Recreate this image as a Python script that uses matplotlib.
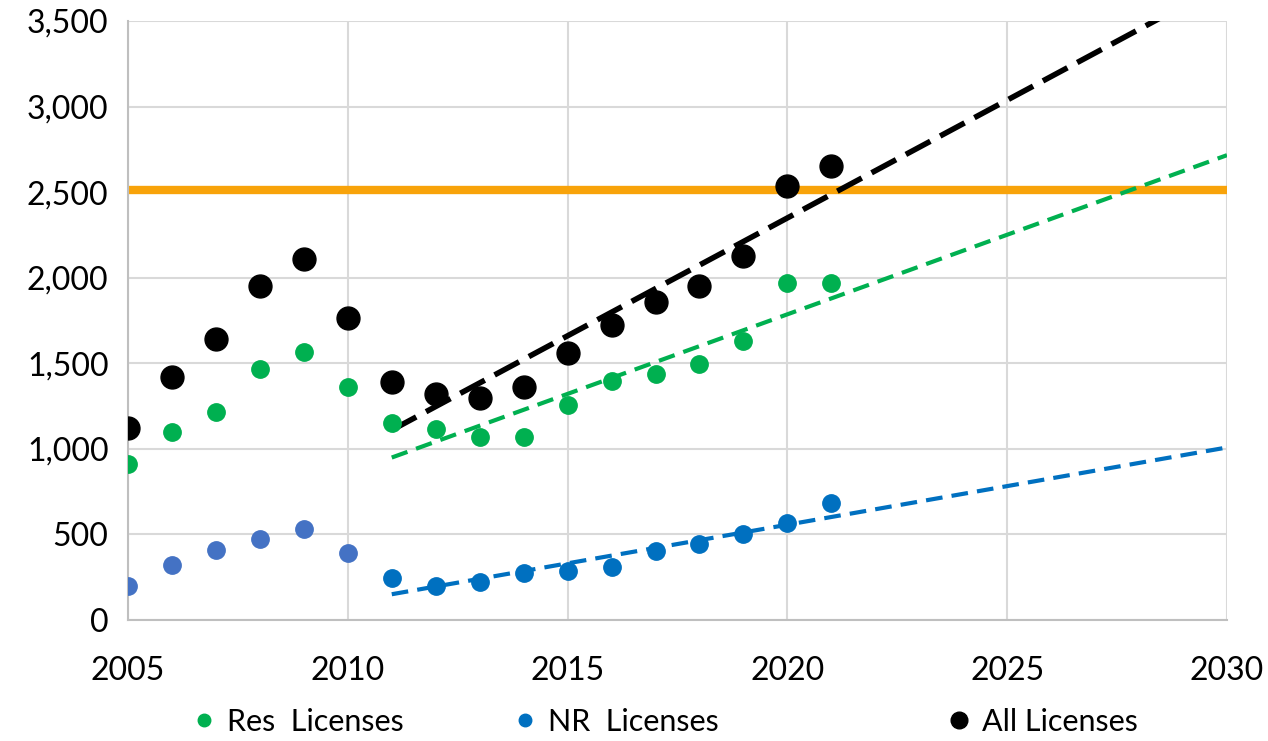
import numpy as np
import matplotlib
matplotlib.use("Agg")
import matplotlib.pyplot as plt

plt.rcParams['font.family'] = ['Lato', 'DejaVu Sans']

years_early = [2005, 2006, 2007, 2008, 2009, 2010]
years_late = [2011, 2012, 2013, 2014, 2015, 2016, 2017, 2018, 2019, 2020, 2021]

all_early = [1120, 1422, 1640, 1952, 2110, 1763]
all_late = [1393, 1321, 1296, 1360, 1559, 1724, 1857, 1952, 2129, 2536, 2655]

res_early = [912, 1101, 1218, 1469, 1568, 1364]
res_late = [1149, 1116, 1068, 1068, 1257, 1397, 1438, 1496, 1631, 1968, 1968]

nr_early = [199, 321, 409, 473, 532, 392]
nr_late = [245, 199, 222, 275, 286, 310, 403, 444, 503, 567, 684]

threshold = 2510

x_ticks = [2005, 2010, 2015, 2020, 2025, 2030]
y_ticks = [0, 500, 1000, 1500, 2000, 2500, 3000, 3500]

legend_labels = ['Res  Licenses', 'NR  Licenses', 'All Licenses']

c_green = '#00B050'
c_blue = '#0070C0'
c_blue_early = '#4472C4'
c_orange = '#F8A30A'

fig = plt.figure(figsize=(12.68, 7.41), dpi=100)
ax = fig.add_axes([128/1268, 1-620/741, (1227-128)/1268, (620-21)/741])

ax.set_xlim(2005, 2030)
ax.set_ylim(0, 3500)
ax.set_xticks(x_ticks)
ax.set_yticks(y_ticks)
ax.set_yticklabels([f"{v:,}" for v in y_ticks])
ax.grid(True, color='#D9D9D9', linewidth=1.5)
ax.set_axisbelow(True)
for s in ['top', 'right']:
    ax.spines[s].set_visible(False)
for s in ['left', 'bottom']:
    ax.spines[s].set_color('#BFBFBF')
    ax.spines[s].set_linewidth(1.5)
ax.tick_params(length=0, labelsize=23)
ax.tick_params(axis='x', pad=26)
ax.tick_params(axis='y', pad=14)

# threshold line
ax.axhline(threshold, color=c_orange, linewidth=6, zorder=2)

# trendlines fitted on 2011-2021
x_fit = np.array([2011, 2030])
xl = np.array(years_late)
for vals, col, lw, dash in [(nr_late, c_blue, 3.0, (4, 2.2)),
                            (res_late, c_green, 3.0, (4, 2.2)),
                            (all_late, 'black', 4.0, (5, 2))]:
    m, b = np.polyfit(xl, np.array(vals), 1)
    ax.plot(x_fit, m * x_fit + b, color=col, linewidth=lw,
            linestyle=(0, dash), zorder=4, dash_capstyle='butt')

# points
ax.plot(years_early, nr_early, 'o', color=c_blue_early, markersize=12.5, zorder=5)
ax.plot(years_late, nr_late, 'o', color=c_blue, markersize=12.5, zorder=5)
ax.plot(years_early, res_early, 'o', color=c_green, markersize=12.5, zorder=5)
ax.plot(years_late, res_late, 'o', color=c_green, markersize=12.5, zorder=5)
ax.plot(years_early, all_early, 'o', color='black', markersize=16.5, zorder=5)
ax.plot(years_late, all_late, 'o', color='black', markersize=16.5, zorder=5)

# legend entries placed individually
h1 = ax.plot([], [], 'o', color=c_green, markersize=9)[0]
h2 = ax.plot([], [], 'o', color=c_blue, markersize=9)[0]
h3 = ax.plot([], [], 'o', color='black', markersize=12)[0]
for h, lab, xpx in [(h1, legend_labels[0], 193), (h2, legend_labels[1], 514),
                    (h3, legend_labels[2], 948)]:
    fig.legend(handles=[h], labels=[lab], loc='center left',
               bbox_to_anchor=(xpx/1268, 1-722/741), frameon=False,
               fontsize=22, borderaxespad=0, borderpad=0,
               handlelength=0.75, handletextpad=0.35)

fig.savefig('out.png', dpi=100)
